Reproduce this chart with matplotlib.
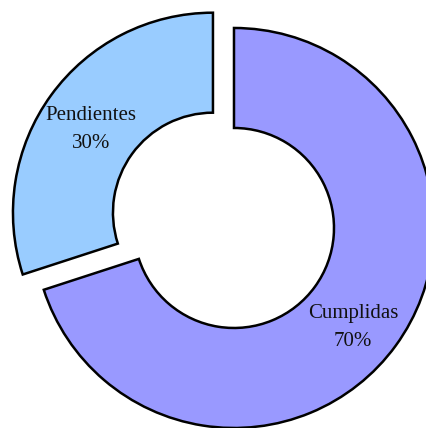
import matplotlib
matplotlib.use("Agg")
import matplotlib.pyplot as plt

# datos del gráfico
categorias = ["Cumplidas", "Pendientes"]
porcentajes = [70, 30]
colores = ["#9999ff", "#99ccff"]
separacion = [0.05, 0.08]

plt.rcParams["font.family"] = ["Liberation Serif", "DejaVu Serif"]

fig = plt.figure(figsize=(4.27, 4.28), dpi=100)
ax = fig.add_axes([0, 0, 1, 1])

etiquetas = [f"{c}\n{p}%" for c, p in zip(categorias, porcentajes)]

wedges, textos = ax.pie(
    porcentajes,
    labels=etiquetas,
    colors=colores,
    explode=separacion,
    startangle=90,
    counterclock=False,
    labeldistance=0.76,
    wedgeprops=dict(width=0.5, edgecolor="black", linewidth=1.8),
    textprops=dict(fontsize=15, color="#111111"),
)
for t in textos:
    t.set_horizontalalignment("center")
    t.set_verticalalignment("center")
    t.set_linespacing(1.6)

# ajuste fino de las etiquetas
x, y = textos[0].get_position()
textos[0].set_position((x - 0.02, y - 0.05))
x, y = textos[1].get_position()
textos[1].set_position((x + 0.005, y - 0.03))

ax.set_xlim(-1.1295, 1.0055)
ax.set_ylim(-1.0295, 1.1105)
ax.set_aspect("auto")
ax.axis("off")

fig.savefig("out.png", dpi=100)
